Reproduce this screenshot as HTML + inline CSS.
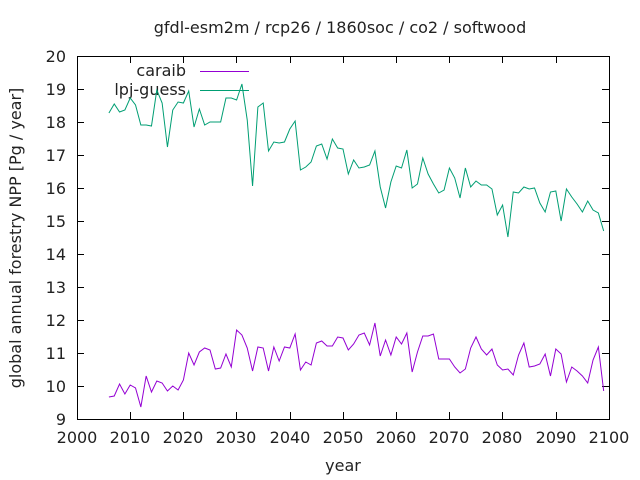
<!DOCTYPE html>
<html><head><style>body{margin:0;background:#fff}svg{display:block}text{font-family:"DejaVu Sans",sans-serif;font-size:16px;fill:#222}</style></head><body>
<svg width="640" height="480" viewBox="0 0 640 480">
<text x="340" y="33" text-anchor="middle">gfdl-esm2m / rcp26 / 1860soc / co2 / softwood</text>
<g stroke="#000" stroke-width="1" fill="none">
<rect x="77.5" y="56.5" width="532" height="363"/>
<path d="M77 89.5h7M77 122.5h7M77 155.5h7M77 188.5h7M77 221.5h7M77 254.5h7M77 287.5h7M77 320.5h7M77 353.5h7M77 386.5h7M609 89.5h-7M609 122.5h-7M609 155.5h-7M609 188.5h-7M609 221.5h-7M609 254.5h-7M609 287.5h-7M609 320.5h-7M609 353.5h-7M609 386.5h-7"/>
<path d="M130.5 419v-7M183.5 419v-7M236.5 419v-7M290.5 419v-7M343.5 419v-7M396.5 419v-7M449.5 419v-7M502.5 419v-7M556.5 419v-7M130.5 56v7M183.5 56v7M236.5 56v7M290.5 56v7M343.5 56v7M396.5 56v7M449.5 56v7M502.5 56v7M556.5 56v7"/>
</g>
<g text-anchor="end">
<text x="66" y="62">20</text><text x="66" y="95">19</text><text x="66" y="128">18</text><text x="66" y="161">17</text><text x="66" y="194">16</text><text x="66" y="227">15</text><text x="66" y="260">14</text><text x="66" y="293">13</text><text x="66" y="326">12</text><text x="66" y="359">11</text><text x="66" y="392">10</text><text x="66" y="425">9</text>
</g>
<g text-anchor="middle">
<text x="77" y="443">2000</text><text x="130" y="443">2010</text><text x="183" y="443">2020</text><text x="236" y="443">2030</text><text x="290" y="443">2040</text><text x="343" y="443">2050</text><text x="396" y="443">2060</text><text x="449" y="443">2070</text><text x="502" y="443">2080</text><text x="556" y="443">2090</text><text x="609" y="443">2100</text>
<text x="343" y="471">year</text>
</g>
<text transform="translate(21,238) rotate(-90)" text-anchor="middle">global annual forestry NPP [Pg / year]</text>
<text x="186" y="76" text-anchor="end">caraib</text>
<text x="186" y="95" text-anchor="end">lpj-guess</text>
<path d="M200 71.5h49" stroke="#9400d3"/>
<path d="M200 90.5h49" stroke="#009e73"/>
<g transform="translate(77,0) scale(5.32,1)" fill="none" stroke-width="1">
<polyline vector-effect="non-scaling-stroke" stroke="#009e73" points="6,113 7,104 8,112 9,110 10,98 11,105 12,125 13,125 14,126 15,90 16,103 17,147 18,110 19,102 20,103 21,91 22,127 23,109 24,125 25,122 26,122 27,122 28,98 29,98 30,100 31,84 32,120 33,186 34,107 35,103 36,151 37,142 38,143 39,142 40,129 41,121 42,170 43,167 44,162 45,146 46,144 47,159 48,139 49,148 50,149 51,174 52,160 53,168 54,167 55,165 56,151 57,187 58,208 59,182 60,166 61,168 62,150 63,188 64,184 65,158 66,174 67,184 68,193 69,190 70,168 71,178 72,198 73,168 74,187 75,181 76,185 77,185 78,189 79,215 80,205 81,237 82,192 83,193 84,187 85,189 86,188 87,203 88,212 89,192 90,191 91,221 92,189 93,197 94,204 95,212 96,201 97,210 98,213 99,231"/>
<polyline vector-effect="non-scaling-stroke" stroke="#9400d3" points="6,397 7,396 8,384 9,394 10,385 11,388 12,407 13,376 14,392 15,381 16,383 17,391 18,386 19,390 20,380 21,353 22,365 23,352 24,348 25,350 26,369 27,368 28,354 29,367 30,330 31,335 32,348 33,371 34,347 35,348 36,371 37,347 38,361 39,347 40,348 41,334 42,370 43,362 44,365 45,343 46,341 47,346 48,346 49,337 50,338 51,350 52,344 53,335 54,333 55,345 56,323 57,356 58,340 59,355 60,337 61,344 62,333 63,372 64,352 65,336 66,336 67,334 68,359 69,359 70,359 71,367 72,373 73,369 74,348 75,337 76,349 77,355 78,349 79,365 80,370 81,369 82,375 83,355 84,343 85,367 86,366 87,364 88,354 89,376 90,349 91,354 92,382 93,367 94,371 95,376 96,383 97,360 98,347 99,391"/>
</g>
</svg>
</body></html>
